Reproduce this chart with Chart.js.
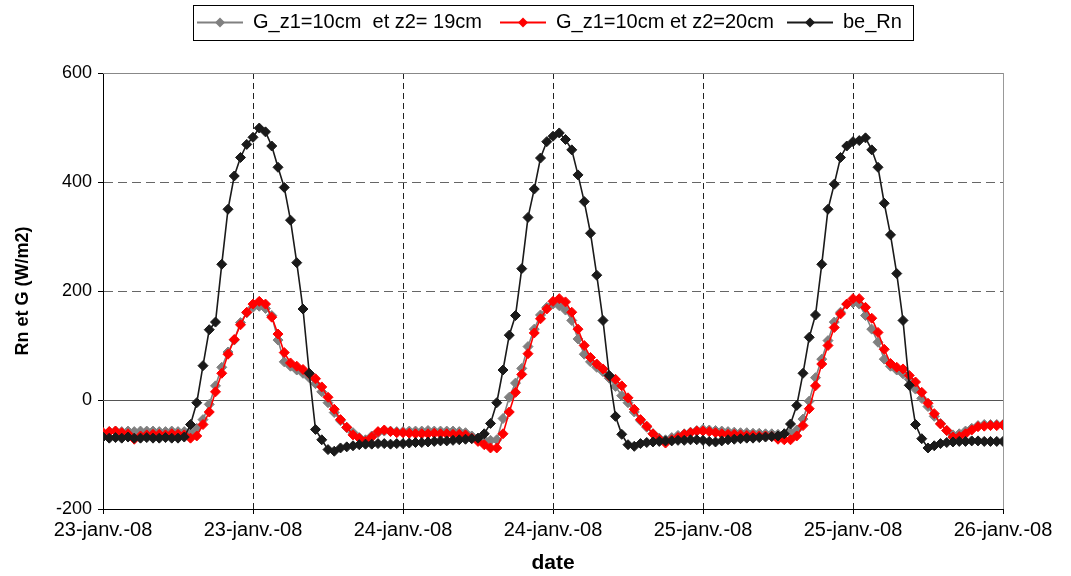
<!DOCTYPE html>
<html><head><meta charset="utf-8">
<script src="https://cdn.jsdelivr.net/npm/chart.js@4/dist/chart.umd.min.js"></script>
<style>html,body{margin:0;padding:0;background:#fff}</style>
</head><body>
<canvas id="c" width="1071" height="576"></canvas>
<script>
// time step between samples, hours (first sample at 23-janv.-08 00:00)
const stepHours = 0.5;
const tickLabels = ['23-janv.-08','23-janv.-08','24-janv.-08','24-janv.-08','25-janv.-08','25-janv.-08','26-janv.-08'];
const seriesNames = ['G_z1=10cm  et z2= 19cm', 'G_z1=10cm et z2=20cm', 'be_Rn'];

const g19 = [
 -60,-58,-57,-58,-57,-58,-57,-57,-57,-58,-58,-57,
 -58,-58,-60,-52,-36,-8,26,60,88,110,142,160,
 170,172,168,155,110,70,62,55,49,41,30,15,
 -5,-23,-38,-51,-60,-69,-73,-66,-60,-57,-57,-58,
 -58,-57,-57,-57,-56,-57,-57,-57,-57,-58,-60,-66,
 -70,-73,-74,-73,-34,5,31,58,98,130,156,170,
 176,173,165,146,112,84,70,60,52,40,25,8,
 -5,-22,-38,-50,-62,-70,-73,-69,-65,-62,-59,-56,
 -54,-55,-56,-57,-58,-59,-60,-60,-61,-61,-62,-62,
 -63,-62,-60,-55,-35,-2,41,75,109,143,161,176,
 178,176,155,130,106,75,62,55,48,38,20,3,
 -12,-30,-43,-56,-64,-62,-57,-52,-47,-45,-45,-45,
 -45];

const g20 = [
 -60,-58,-57,-60,-62,-72,-66,-64,-63,-63,-64,-62,
 -63,-64,-70,-66,-45,-22,15,49,84,111,138,161,
 176,181,176,152,121,87,68,62,56,48,39,24,
 5,-17,-36,-50,-64,-70,-76,-68,-58,-55,-58,-60,
 -60,-61,-62,-62,-62,-61,-62,-62,-63,-63,-64,-70,
 -76,-82,-88,-88,-62,-22,14,47,85,123,149,167,
 181,186,180,161,130,100,78,66,57,44,38,26,
 4,-17,-36,-48,-62,-72,-79,-73,-69,-63,-60,-57,
 -57,-58,-60,-62,-63,-63,-64,-65,-65,-66,-66,-67,
 -72,-73,-73,-66,-47,-16,26,66,100,133,158,176,
 186,186,170,150,124,93,67,60,57,45,33,14,
 -6,-25,-44,-56,-68,-67,-62,-55,-49,-48,-47,-47,
 -46];

const rn = [
 -68,-70,-69,-70,-68,-70,-70,-69,-70,-70,-69,-70,
 -70,-68,-45,-5,63,129,143,249,350,411,445,469,
 482,499,492,466,427,390,330,252,167,49,-54,-73,
 -91,-94,-88,-86,-84,-82,-81,-81,-80,-80,-81,-80,
 -80,-79,-78,-78,-77,-76,-75,-75,-74,-73,-72,-71,
 -70,-62,-43,-5,55,119,155,241,335,387,444,474,
 484,490,478,459,413,364,306,229,146,45,-30,-63,
 -82,-85,-80,-78,-77,-76,-75,-75,-74,-74,-73,-73,
 -74,-76,-77,-75,-73,-72,-71,-70,-70,-69,-68,-67,
 -66,-62,-44,-10,49,115,156,249,350,396,445,466,
 474,476,481,459,427,361,303,232,146,27,-45,-71,
 -88,-84,-80,-78,-77,-76,-76,-75,-75,-76,-76,-76,
 -76];

const colors = ['#808080', '#ff0000', '#1a1a1a'];
const FONT = '"Liberation Sans", Arial, sans-serif';

function toXY(arr){ return arr.map((v,i)=>({x:i*stepHours, y:v})); }

const frame = {
  id: 'frame',
  beforeDatasetsDraw(chart){
    const {ctx, chartArea:a, scales:{x,y}} = chart;
    ctx.save();
    ctx.lineWidth = 1;
    ctx.setLineDash([]);
    ctx.strokeStyle = '#555';
    const y0 = Math.round(y.getPixelForValue(0)) + 0.5;
    ctx.beginPath(); ctx.moveTo(a.left, y0); ctx.lineTo(a.right, y0); ctx.stroke();
    ctx.strokeStyle = '#888';
    const yt = Math.round(y.getPixelForValue(y.max)) + 0.5;
    ctx.beginPath(); ctx.moveTo(a.left, yt); ctx.lineTo(a.right, yt); ctx.stroke();
    ctx.strokeStyle = '#999';
    const xr = Math.round(x.getPixelForValue(x.max)) + 0.5;
    ctx.beginPath(); ctx.moveTo(xr, a.top); ctx.lineTo(xr, a.bottom); ctx.stroke();
    ctx.restore();
  },
  afterDraw(chart){
    const ctx = chart.ctx;
    ctx.save();
    ctx.font = '20px ' + FONT;
    ctx.textBaseline = 'middle';
    const cy = 22.5;
    const itemX = [197, 500, 787];
    const lineW = 46;
    seriesNames.forEach((name, k) => {
      const xPos = itemX[k];
      ctx.strokeStyle = colors[k];
      ctx.lineWidth = 2;
      ctx.beginPath(); ctx.moveTo(xPos, cy); ctx.lineTo(xPos + lineW, cy); ctx.stroke();
      const mx = xPos + lineW/2;
      ctx.fillStyle = colors[k];
      ctx.beginPath();
      ctx.moveTo(mx-5, cy); ctx.lineTo(mx, cy-5); ctx.lineTo(mx+5, cy); ctx.lineTo(mx, cy+5);
      ctx.closePath(); ctx.fill();
      ctx.fillStyle = '#000';
      ctx.textAlign = 'left';
      ctx.fillText(name, xPos + lineW + 10, cy);
    });
    ctx.strokeStyle = '#000';
    ctx.lineWidth = 1;
    ctx.strokeRect(193.5, 5.5, 720, 35);
    ctx.restore();
  }
};

const mk = (label, data, color, order) => ({
  label, data: toXY(data), borderColor: color, backgroundColor: color,
  borderWidth: 1.6, pointStyle: 'rectRot', pointRadius: 5, pointBorderWidth: 1,
  pointBorderColor: color, pointBackgroundColor: color, tension: 0, order
});

new Chart(document.getElementById('c'), {
  type: 'line',
  data: { datasets: [
    mk(seriesNames[0], g19, colors[0], 3),
    mk(seriesNames[1], g20, colors[1], 2),
    mk(seriesNames[2], rn, colors[2], 1)
  ]},
  options: {
    responsive: false, animation: false, devicePixelRatio: 1,
    layout: { padding: { left: 0, right: 68, top: 73, bottom: 0 } },
    plugins: { legend: { display: false }, tooltip: { enabled: false } },
    scales: {
      x: {
        type: 'linear', min: 0, max: 72,
        afterFit: s => { s.height = 67; },
        ticks: { stepSize: 12, autoSkip: false, maxRotation: 0, padding: 4, color: '#000',
          font: { family: FONT, size: 20 },
          callback: v => tickLabels[Math.round(v/12)] },
        grid: { color: c => (c.tick && c.tick.value > 0 && c.tick.value < 72) ? '#222' : 'rgba(0,0,0,0)',
          tickColor: '#000', tickLength: 5, lineWidth: 1 },
        border: { display: true, color: '#000', width: 1, dash: [6, 4] },
        title: { display: true, text: 'date', color: '#000', padding: { top: 0, bottom: 0 },
          font: { family: FONT, size: 21, weight: 'bold' } }
      },
      y: {
        min: -200, max: 600,
        afterFit: s => { s.width = 103; },
        ticks: { stepSize: 200, padding: 6, color: '#000', font: { family: FONT, size: 18 } },
        grid: { color: c => (c.tick && (c.tick.value === 200 || c.tick.value === 400)) ? '#666' : 'rgba(0,0,0,0)',
          tickColor: '#000', tickLength: 5, lineWidth: 1 },
        border: { display: true, color: '#000', width: 1, dash: [9, 5] },
        title: { display: true, text: 'Rn et G (W/m2)', color: '#000', padding: { top: 12, bottom: 0 },
          font: { family: FONT, size: 18, weight: 'bold' } }
      }
    }
  },
  plugins: [frame]
});
</script>
</body></html>
